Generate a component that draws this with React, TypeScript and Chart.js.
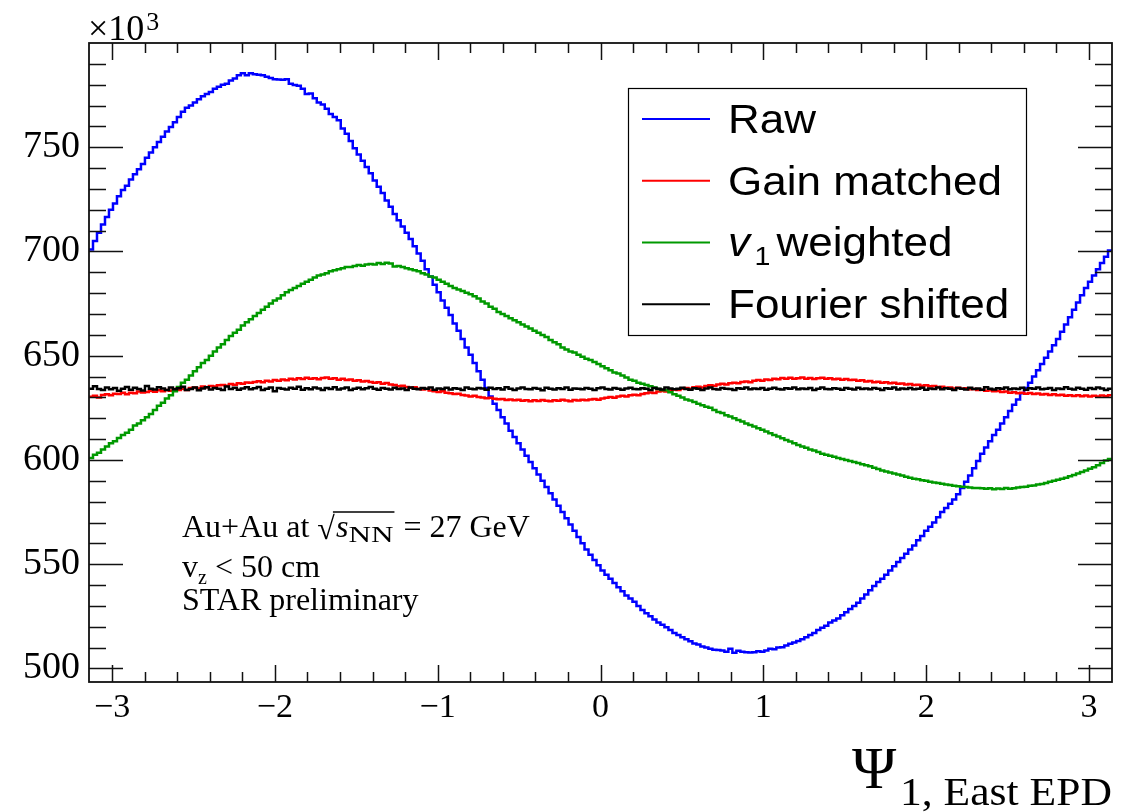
import { useEffect, useRef } from "react";
import { Chart, registerables } from "chart.js";

Chart.register(...registerables);

// ---------------- data ----------------
const X_MIN = -Math.PI;
const X_MAX = Math.PI;
const Y_MIN = 493.5;
const Y_MAX = 800;
const X_MAJOR_TICKS = [-3, -2, -1, 0, 1, 2, 3];
const Y_MAJOR_TICKS = [500, 550, 600, 650, 700, 750];
const X_MINOR_STEP = 0.2;
const Y_MINOR_STEP = 10;
const Y_MAJOR_STEP = 50;

const SERIES_NAMES = ["Raw", "Gain matched", "v1 weighted", "Fourier shifted"];
const SERIES_COLORS = ["#0000ff", "#ff0000", "#009900", "#000000"];

const RAW = [
  701, 705, 709, 713, 716.5, 720, 723, 726.5, 729.5, 731.5,
  734.5, 737, 739.5, 742, 745, 747.5, 750, 752.5, 755, 757.5,
  759.7, 762, 764.5, 767, 769, 770, 771.5, 773, 774.5, 775.5,
  776.5, 778, 779, 780, 780.5, 782, 783, 784.5, 785.5, 784.5,
  785.5, 785, 784.8, 784.5, 783.8, 783.2, 782.6, 782.5, 782.4, 782.6,
  780.5, 779.8, 779.5, 778, 775.5, 775.8, 773.5, 771.5, 770.5, 768.5,
  766, 764.5, 763, 759, 756.5, 753, 749.5, 746.5, 743.5, 740.5,
  737.5, 734, 731, 728, 724.5, 721.5, 718, 715, 712, 709,
  706, 702.5, 699, 695.5, 691.5, 688, 684, 680.5, 676.5, 673,
  669.5, 665.5, 662, 658, 654, 650.5, 646.5, 642.5, 638.5, 634.5,
  630.5, 627, 624, 620.5, 617.5, 614, 611, 608, 605, 602,
  599, 596, 593, 590, 587, 584, 581, 578, 575, 572,
  569, 566, 563, 560, 557, 554.5, 552, 549.5, 547, 545,
  543, 541, 539, 537, 535, 533.5, 532, 530, 528, 526.5,
  525, 523.5, 522, 521, 519.8, 518.5, 517, 516, 515, 514,
  513, 512, 511.5, 510.5, 510, 509.5, 509, 508.8, 508.6, 508,
  509.5, 507.5, 508.5, 508, 507.8, 507.6, 507.8, 508.2, 508, 508.6,
  509.4, 509.2, 510, 510.2, 511, 511.8, 512.5, 513.2, 514, 515,
  516, 517, 518.5, 519.5, 520.5, 522, 523, 524, 525.5, 527,
  528.5, 530, 531.5, 533.5, 535.5, 537.5, 539.5, 541.5, 543, 545,
  547, 549, 551, 553, 555, 557, 559, 561.5, 563.5, 566,
  568, 570, 572.5, 575, 577, 579, 581, 583.5, 586.5, 589.5,
  592.5, 596, 599.5, 603, 606, 609, 612, 614.5, 617.5, 620.5,
  623.5, 626.5, 629, 632, 634.5, 637, 640, 643, 646, 649,
  652, 655, 658, 661.5, 665, 668.5, 672, 675.5, 679, 682.5,
  685.5, 688.5, 691.5, 694.5, 697.5, 700.5,
];

const GAIN_MATCHED = [
  630.3, 630.8, 630.0, 631.2, 631.5, 631.0, 631.8, 631.6, 632.2, 631.5,
  632.3, 632.0, 632.8, 632.4, 632.6, 633.2, 632.7, 633.4, 633.0, 633.6,
  633.2, 634.0, 633.5, 634.2, 633.6, 634.5, 634.8, 634.3, 635.2, 634.9,
  635.5, 635.2, 635.8, 636.0, 635.6, 636.4, 636.1, 636.8, 636.5, 637.2,
  637.0, 637.4, 637.8, 637.3, 638.0, 637.6, 638.3, 638.0, 638.6, 638.2,
  639.0, 638.6, 639.2, 638.8, 639.4, 639.0, 639.2, 638.7, 639.3, 639.5,
  638.9, 639.2, 638.5, 638.9, 638.3, 638.6, 638.0, 638.2, 637.6, 637.9,
  637.4, 637.0, 637.3, 636.6, 636.9, 636.2, 635.9, 635.4, 635.6, 635.0,
  634.6, 634.9, 634.2, 633.8, 634.0, 633.3, 633.0, 632.6, 632.9, 632.2,
  632.0, 631.6, 631.8, 631.2, 630.9, 630.5, 630.8, 630.2, 630.0, 629.6,
  629.9, 629.4, 629.1, 629.3, 628.8, 629.0, 628.6, 628.9, 628.4, 628.7,
  628.2, 628.6, 628.3, 628.8, 628.4, 628.2, 628.7, 628.4, 628.9, 628.5,
  628.2, 628.8, 628.5, 628.9, 628.6, 629.0, 629.3, 628.9, 629.5, 629.8,
  630.2, 629.9, 630.5, 630.8, 630.4, 631.0, 631.3, 631.0, 631.7, 632.0,
  632.4, 632.1, 632.8, 633.1, 632.8, 633.5, 633.8, 633.5, 634.2, 634.5,
  634.2, 634.9, 635.1, 634.8, 635.5, 635.8, 635.6, 636.2, 636.5, 636.2,
  636.8, 637.0, 636.8, 637.4, 637.6, 637.3, 638.0, 638.3, 638.0, 638.6,
  638.4, 639.0, 638.7, 639.3, 639.0, 639.4, 638.9, 639.2, 639.5, 638.9,
  639.3, 638.8, 639.2, 639.4, 638.9, 639.2, 638.7, 639.0, 638.5, 638.8,
  638.3, 638.5, 638.0, 638.2, 637.6, 637.9, 637.3, 637.5, 637.0, 637.3,
  636.8, 637.0, 636.5, 636.7, 636.2, 636.4, 635.9, 636.1, 635.6, 635.8,
  635.3, 635.5, 635.0, 635.1, 634.6, 634.8, 634.3, 634.6, 634.1, 634.4,
  633.9, 634.0, 633.5, 633.7, 633.2, 633.4, 632.9, 633.1, 632.6, 632.8,
  632.3, 632.5, 632.0, 632.3, 631.8, 632.1, 631.6, 631.9, 631.4, 631.7,
  631.2, 631.5, 631.0, 631.3, 630.8, 631.1, 630.7, 631.0, 630.6, 630.9,
  630.5, 630.8, 630.4, 630.9, 630.6, 631.0,
];

const V1_WEIGHTED = [
  601, 602.5, 603.5, 605, 606.5, 608, 609, 610.5, 612, 613,
  614.5, 616.5, 617.5, 619, 620.5, 622, 624, 626, 627.5, 629.5,
  631, 633, 635, 637, 638.5, 640.5, 642.5, 644.5, 646.5, 648,
  650, 652, 654, 655.5, 657.5, 659.5, 661, 662.5, 664.5, 666,
  667.5, 669, 670.5, 672, 673.5, 675, 676.5, 677.5, 679, 680.5,
  681.5, 682.5, 683.5, 684.5, 685.5, 686.5, 687.5, 688.5, 689, 689.5,
  690.5, 691, 691.5, 692, 692.5, 692.5, 693, 693.5, 693.2, 693.8,
  694, 693.8, 694.5, 694, 694.6, 694.2, 692.8, 693, 692.5, 692,
  691.5, 691, 690.5, 689.5, 689, 688, 687.5, 686.5, 685.5, 684.5,
  683.5, 682.5, 681.8, 681, 680.2, 679.5, 678.5, 677.5, 676, 675,
  673.5, 672.5, 671, 670, 669, 668, 667, 666, 665, 664,
  663, 662, 661, 660, 659, 657.5, 656.5, 655.5, 654, 653,
  652, 651.5, 650.5, 649.5, 648.5, 648, 647, 646, 645, 644,
  643, 642, 641.5, 640.5, 639.5, 638.5, 638, 637, 636.5, 636,
  635.3, 634.8, 634, 633.5, 633.4, 632.5, 631.5, 630.8, 630, 629,
  628.5, 627.8, 627, 626.3, 625.5, 625, 624, 623, 622.5, 621.5,
  620.8, 620, 619.2, 618.5, 617.5, 616.8, 616, 615.2, 614.5, 613.6,
  612.8, 612, 611.2, 610.4, 609.6, 608.8, 608, 607.2, 606.5, 605.8,
  605, 604.5, 603.8, 603, 602.5, 602, 601.5, 601, 600.5, 600,
  599.5, 599, 598.5, 598, 597.5, 597, 596.3, 595.7, 595, 594.5,
  594, 593.5, 593, 592.5, 592, 591.5, 591, 590.7, 590.3, 590,
  589.6, 589.2, 589, 588.6, 588.2, 588, 587.6, 587.4, 587.2, 587,
  586.8, 586.6, 586.5, 586.4, 586.2, 586.4, 586, 586.3, 586.1, 586.5,
  586.2, 586.4, 586.8, 587, 587.2, 587.6, 587.8, 588.2, 588.5, 589,
  589.5, 590, 590.5, 591, 591.5, 592.2, 592.8, 593.5, 594.2, 595,
  595.8, 596.5, 597.5, 598.5, 599.8, 600.5,
];

const FOURIER_SHIFTED = [
  634.2, 635.4, 634.0, 633.6, 634.8, 633.9, 634.5, 633.2, 634.1, 635.0,
  633.7, 634.6, 634.0, 633.3, 635.5, 634.2, 633.8, 634.9, 634.3, 633.5,
  634.7, 633.9, 634.4, 635.1, 633.6, 634.0, 634.8, 633.4, 634.3, 634.9,
  633.8, 634.5, 634.1, 633.5, 635.2, 634.0, 634.6, 633.7, 634.3, 634.9,
  633.9, 634.4, 635.0, 633.6, 634.2, 634.7, 632.9, 634.5, 634.1, 633.8,
  634.6, 634.2, 635.1, 633.7, 634.4, 633.9, 634.8, 634.3, 633.6, 634.5,
  634.0, 634.9, 633.8, 634.3, 634.7, 633.5, 634.2, 634.6, 633.9, 634.4,
  635.0, 634.1, 633.7, 634.5, 634.2, 633.8, 634.6, 634.0, 634.3, 633.6,
  634.7, 634.2, 633.9, 634.5, 634.1, 634.8, 633.7, 634.3, 634.0, 634.6,
  633.8, 634.4, 634.2, 633.5, 634.7, 634.1, 633.9, 634.5, 634.3, 633.7,
  634.6, 634.0, 634.4, 633.8, 634.9, 634.2, 633.6, 634.3, 634.7, 634.0,
  633.9, 634.5, 634.1, 633.4, 634.6, 634.2, 633.8, 634.4, 634.0, 634.7,
  633.7, 634.3, 634.1, 633.9, 634.5, 634.2, 633.6, 634.4, 634.8, 634.0,
  633.8, 634.5, 634.1, 633.7, 634.3, 634.6, 634.0, 633.9, 634.4, 634.2,
  633.6, 634.5, 634.1, 633.8, 634.7, 634.3, 633.9, 634.2, 634.6, 634.0,
  633.7, 634.4, 634.1, 633.5, 634.3, 634.8, 634.0, 633.8, 634.5, 634.2,
  634.0, 633.6, 634.4, 634.1, 634.7, 633.9, 634.3, 634.0, 634.5, 633.7,
  634.2, 634.6, 634.0, 633.8, 634.4, 634.1, 634.7, 633.9, 634.3, 634.0,
  634.5, 633.6, 634.2, 634.8, 634.0, 633.9, 634.4, 634.2, 633.7, 634.5,
  634.1, 633.8, 634.6, 634.0, 634.3, 633.9, 634.5, 634.2, 633.6, 634.4,
  634.1, 634.7, 633.8, 634.3, 634.0, 634.5, 633.9, 634.2, 634.6, 633.7,
  634.3, 634.0, 634.8, 633.9, 634.4, 634.1, 633.6, 634.5, 634.2, 633.8,
  634.6, 634.0, 634.3, 633.7, 634.9, 634.1, 633.8, 634.4, 634.2, 634.7,
  633.9, 634.3, 634.0, 634.6, 633.7, 634.4, 634.1, 634.8, 633.9, 634.2,
  634.5, 633.6, 634.3, 634.0, 634.9, 634.1, 633.8, 634.6, 634.2, 633.7,
  634.5, 634.0, 634.8, 634.3, 633.6, 634.1,
];

const SERIES = [RAW, GAIN_MATCHED, V1_WEIGHTED, FOURIER_SHIFTED];

const EXPONENT_LABEL = "×10";
const EXPONENT_POWER = "3";
const X_TITLE_MAIN = "Ψ";
const X_TITLE_SUB = "1, East EPD";

// ---------------- helpers ----------------
function histogramPoints(values: number[]) {
  const n = values.length;
  const w = (X_MAX - X_MIN) / n;
  const pts = values.map((v, i) => ({ x: X_MIN + i * w, y: v }));
  pts.push({ x: X_MAX, y: values[n - 1] });
  return pts;
}

const SERIF = "'Liberation Serif', 'DejaVu Serif', serif";
const SANS = "'Liberation Sans', Arial, sans-serif";

const rootStylePlugin = {
  id: "rootStyle",
  afterDatasetsDraw(chart: any) {
    const { ctx, chartArea: a, scales } = chart;
    const xs = scales.x;
    const ys = scales.y;
    ctx.save();
    ctx.strokeStyle = "#111";
    ctx.lineWidth = 1.5;
    ctx.beginPath();
    const k0 = Math.ceil(X_MIN / X_MINOR_STEP - 1e-9);
    const k1 = Math.floor(X_MAX / X_MINOR_STEP + 1e-9);
    for (let k = k0; k <= k1; k++) {
      const v = k * X_MINOR_STEP;
      const major = Math.abs(v - Math.round(v)) < 1e-6;
      const len = major ? 17 : 10;
      const px = Math.round(xs.getPixelForValue(v)) + 0.5;
      ctx.moveTo(px, a.bottom);
      ctx.lineTo(px, a.bottom - len);
      ctx.moveTo(px, a.top);
      ctx.lineTo(px, a.top + len);
    }
    const j0 = Math.ceil(Y_MIN / Y_MINOR_STEP);
    const j1 = Math.floor(Y_MAX / Y_MINOR_STEP);
    for (let j = j0; j <= j1; j++) {
      const v = j * Y_MINOR_STEP;
      if (v >= Y_MAX) continue;
      const major = v % Y_MAJOR_STEP === 0;
      const len = major ? 34 : 17;
      const py = Math.round(ys.getPixelForValue(v)) + 0.5;
      ctx.moveTo(a.left, py);
      ctx.lineTo(a.left + len, py);
      ctx.moveTo(a.right, py);
      ctx.lineTo(a.right - len, py);
    }
    ctx.stroke();
    ctx.lineWidth = 1.8;
    ctx.strokeRect(a.left, a.top, a.right - a.left, a.bottom - a.top);
    ctx.restore();
  },
  afterDraw(chart: any) {
    const { ctx, chartArea: a } = chart;
    ctx.save();
    ctx.fillStyle = "#000";
    ctx.textAlign = "left";
    ctx.textBaseline = "alphabetic";

    // ×10^3
    ctx.font = `36px ${SERIF}`;
    ctx.fillText(EXPONENT_LABEL, a.left - 1, 40);
    const ew = ctx.measureText(EXPONENT_LABEL).width;
    ctx.font = `26px ${SERIF}`;
    ctx.fillText(EXPONENT_POWER, a.left + ew + 1, 30);

    // x-axis title
    ctx.font = `60px ${SERIF}`;
    ctx.fillText(X_TITLE_MAIN, 852, 788);
    ctx.save();
    ctx.font = `41px ${SERIF}`;
    const sw = ctx.measureText(X_TITLE_SUB).width;
    const target = a.right - 900;
    ctx.translate(900, 805);
    ctx.scale(target / sw, 1);
    ctx.fillText(X_TITLE_SUB, 0, 0);
    ctx.restore();

    // legend
    const lx = 628, ly = 88, lw = 398, lh = 247;
    ctx.fillStyle = "#fff";
    ctx.fillRect(lx, ly, lw, lh);
    ctx.strokeStyle = "#000";
    ctx.lineWidth = 1.2;
    ctx.strokeRect(lx + 0.5, ly + 0.5, lw, lh);
    const rowH = lh / SERIES_NAMES.length;
    SERIES_NAMES.forEach((name, i) => {
      const cy = ly + rowH * (i + 0.5);
      ctx.strokeStyle = SERIES_COLORS[i];
      ctx.lineWidth = 2;
      ctx.beginPath();
      ctx.moveTo(642, cy);
      ctx.lineTo(710, cy);
      ctx.stroke();
      ctx.fillStyle = "#000";
      const base = cy + 14;
      ctx.save();
      ctx.translate(728, base);
      ctx.scale(1.1, 1);
      if (name.startsWith("v1 ")) {
        ctx.font = `italic 40px ${SANS}`;
        ctx.fillText("v", 0, 0);
        const vw = ctx.measureText("v").width;
        ctx.font = `26px ${SANS}`;
        ctx.fillText("1", vw + 4, 9);
        ctx.font = `40px ${SANS}`;
        ctx.fillText(name.slice(3), vw + 24, 0);
      } else {
        ctx.font = `40px ${SANS}`;
        ctx.fillText(name, 0, 0);
      }
      ctx.restore();
    });

    // annotation
    ctx.fillStyle = "#000";
    const fz = 32;
    let x = 182;
    let y = 537;
    ctx.font = `${fz}px ${SERIF}`;
    ctx.fillText("Au+Au at ", x, y);
    x += ctx.measureText("Au+Au at ").width;
    ctx.fillText("√", x, y + 2);
    const rootW = ctx.measureText("√").width;
    const barStart = x + rootW - 2;
    x += rootW;
    ctx.font = `italic ${fz}px ${SERIF}`;
    ctx.fillText("s", x + 1, y);
    x += ctx.measureText("s").width + 1;
    ctx.font = `24px ${SERIF}`;
    ctx.save();
    ctx.translate(x, y + 5);
    ctx.scale(1.3, 1);
    ctx.fillText("NN", 0, 0);
    const nnw = ctx.measureText("NN").width * 1.3;
    ctx.restore();
    x += nnw;
    ctx.strokeStyle = "#000";
    ctx.lineWidth = 1.3;
    ctx.beginPath();
    ctx.moveTo(barStart, y - 25);
    ctx.lineTo(x + 1, y - 25);
    ctx.stroke();
    ctx.font = `${fz}px ${SERIF}`;
    ctx.fillText(" = 27 GeV", x + 2, y);

    x = 182;
    y = 577;
    ctx.fillText("v", x, y);
    x += ctx.measureText("v").width;
    ctx.font = `20px ${SERIF}`;
    ctx.fillText("z", x, y + 7);
    x += ctx.measureText("z").width;
    ctx.font = `${fz}px ${SERIF}`;
    ctx.fillText(" < 50 cm", x, y);

    ctx.fillText("STAR preliminary", 182, 610);
    ctx.restore();
  },
};

export default function App() {
  const canvasRef = useRef<HTMLCanvasElement | null>(null);

  useEffect(() => {
    const canvas = canvasRef.current;
    if (!canvas) return;
    const datasets = SERIES.map((vals, i) => ({
      label: SERIES_NAMES[i],
      data: histogramPoints(vals),
      borderColor: SERIES_COLORS[i],
      backgroundColor: SERIES_COLORS[i],
      borderWidth: 2.5,
      pointRadius: 0,
      pointHoverRadius: 0,
      stepped: "before" as const,
      fill: false,
      tension: 0,
      borderCapStyle: "butt" as const,
      borderJoinStyle: "miter" as const,
      order: SERIES.length - i,
    }));

    const chart = new Chart(canvas, {
      type: "line",
      data: { datasets },
      options: {
        animation: false,
        responsive: false,
        devicePixelRatio: 1,
        events: [],
        layout: { autoPadding: false, padding: { left: 0, top: 43, right: 28, bottom: 0 } },
        plugins: { legend: { display: false }, tooltip: { enabled: false } },
        scales: {
          x: {
            type: "linear",
            min: X_MIN,
            max: X_MAX,
            grid: { display: false, drawTicks: false },
            border: { display: false },
            afterBuildTicks: (scale: any) => {
              scale.ticks = X_MAJOR_TICKS.map((v) => ({ value: v }));
            },
            afterFit: (scale: any) => {
              scale.height = 130;
            },
            ticks: {
              autoSkip: false,
              maxRotation: 0,
              minRotation: 0,
              padding: 6,
              color: "#000",
              font: { family: SERIF, size: 34 },
              callback: (v: any) => (Number(v) < 0 ? "\u2212" + Math.abs(Number(v)) : String(v)),
            },
          },
          y: {
            type: "linear",
            min: Y_MIN,
            max: Y_MAX,
            grid: { display: false, drawTicks: false },
            border: { display: false },
            afterBuildTicks: (scale: any) => {
              scale.ticks = Y_MAJOR_TICKS.map((v) => ({ value: v }));
            },
            afterFit: (scale: any) => {
              scale.width = 89;
            },
            ticks: {
              autoSkip: false,
              padding: 9,
              color: "#000",
              font: { family: SERIF, size: 38 },
              callback: (v: any) => String(v),
            },
          },
        },
      },
      plugins: [rootStylePlugin],
    } as any);

    return () => chart.destroy();
  }, []);

  return (
    <div style={{ position: "fixed", left: 0, top: 0, width: 1140, height: 812, background: "#fff" }}>
      <canvas ref={canvasRef} width={1140} height={812} style={{ display: "block", width: 1140, height: 812 }} />
    </div>
  );
}
